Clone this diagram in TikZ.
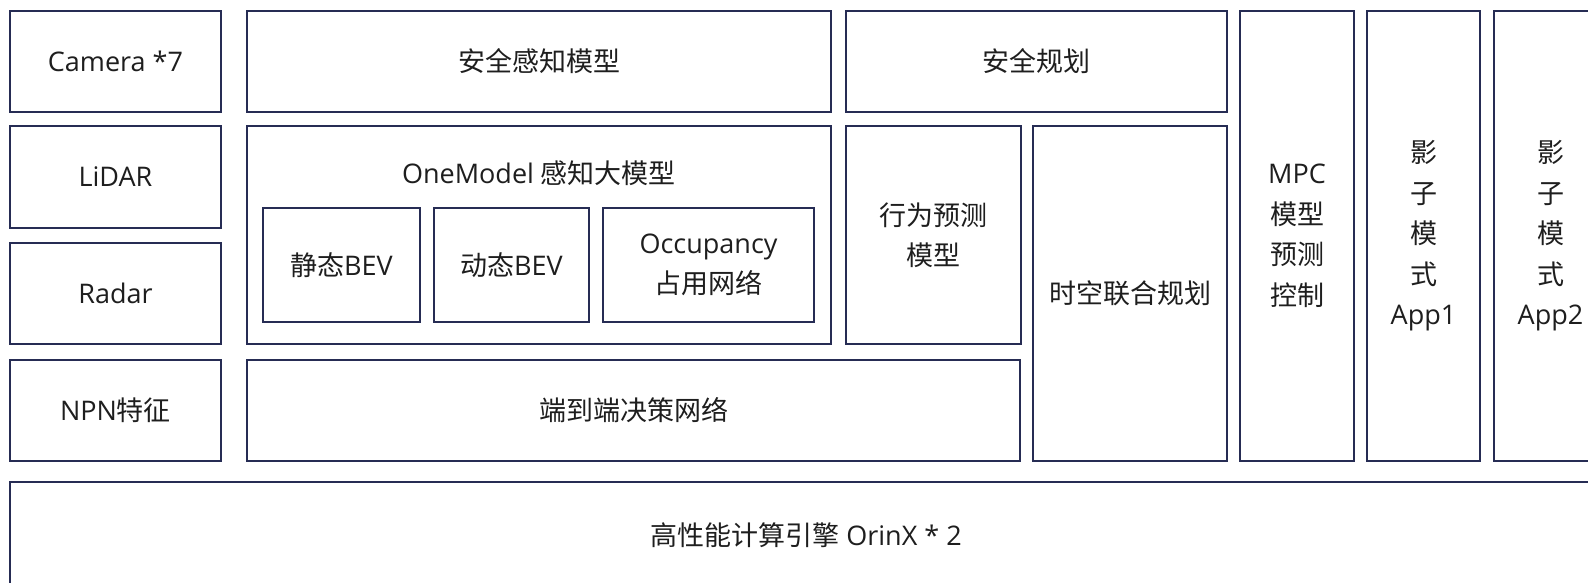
\documentclass[tikz,border=0pt]{standalone}
\usepackage{fontspec}
\setmainfont{Open Sans}
\newfontfamily\cjkf{Noto Sans CJK SC}
\newcommand\zh[1]{{\cjkf #1}}
\definecolor{edgec}{RGB}{38,44,84}
\definecolor{inkc}{RGB}{30,30,30}
\begin{document}
\begin{tikzpicture}[x=1pt,y=-1pt,
  box/.style={draw=edgec, line width=2.2pt, align=center, inner sep=0pt, text=inkc, font=\fontsize{27}{40.5}\selectfont},
  txt/.style={align=center, inner sep=0pt, text=inkc, font=\fontsize{27}{40.5}\selectfont},
]
\useasboundingbox[fill=white] (0,0) rectangle (1588,583);
% left column
\node[box, minimum width=211pt, minimum height=101pt] (cam) at (115.5,61.5) {Camera *7};
\node[box, minimum width=211pt, minimum height=102pt] (lidar) at (115.5,177) {LiDAR};
\node[box, minimum width=211pt, minimum height=101pt] (radar) at (115.5,293.5) {Radar};
\node[box, minimum width=211pt, minimum height=101pt] (npn) at (115.5,410.5) {NPN\zh{特征}};
% perception
\node[box, minimum width=584pt, minimum height=101pt] (safeperc) at (539,61.5) {\zh{安全感知模型}};
\node[box, minimum width=584pt, minimum height=218pt] (onemodel) at (539,235) {};
\node[txt] (onetitle) at (539,173) {OneModel \zh{感知大模型}};
\node[box, minimum width=157pt, minimum height=114pt] (static) at (341.5,265) {\zh{静态}BEV};
\node[box, minimum width=155pt, minimum height=114pt] (dynamic) at (511.5,265) {\zh{动态}BEV};
\node[box, minimum width=211pt, minimum height=114pt] (occ) at (708.5,265) {Occupancy\\\zh{占用网络}};
\node[box, minimum width=773pt, minimum height=101pt] (e2e) at (633.5,410.5) {\zh{端到端决策网络}};
% planning
\node[box, minimum width=381pt, minimum height=101pt] (safeplan) at (1036.5,61.5) {\zh{安全规划}};
\node[box, minimum width=175pt, minimum height=218pt] (behav) at (933.5,235) {\zh{行为预测}\\\zh{模型}};
\node[box, minimum width=194pt, minimum height=335pt] (spatio) at (1130,293.5) {\zh{时空联合规划}};
% control / shadow
\node[box, minimum width=114pt, minimum height=450pt] (mpc) at (1297,236) {MPC\\\zh{模型}\\\zh{预测}\\\zh{控制}};
\node[box, minimum width=113pt, minimum height=450pt] (shadowa) at (1423.5,236) {\zh{影}\\\zh{子}\\\zh{模}\\\zh{式}\\App1};
\node[box, minimum width=113pt, minimum height=450pt] (shadowb) at (1550.5,236) {\zh{影}\\\zh{子}\\\zh{模}\\\zh{式}\\App2};
% compute
\node[box, minimum width=1592pt, minimum height=106pt] (orin) at (806,535) {\zh{高性能计算引擎} OrinX * 2};
\end{tikzpicture}
\end{document}
